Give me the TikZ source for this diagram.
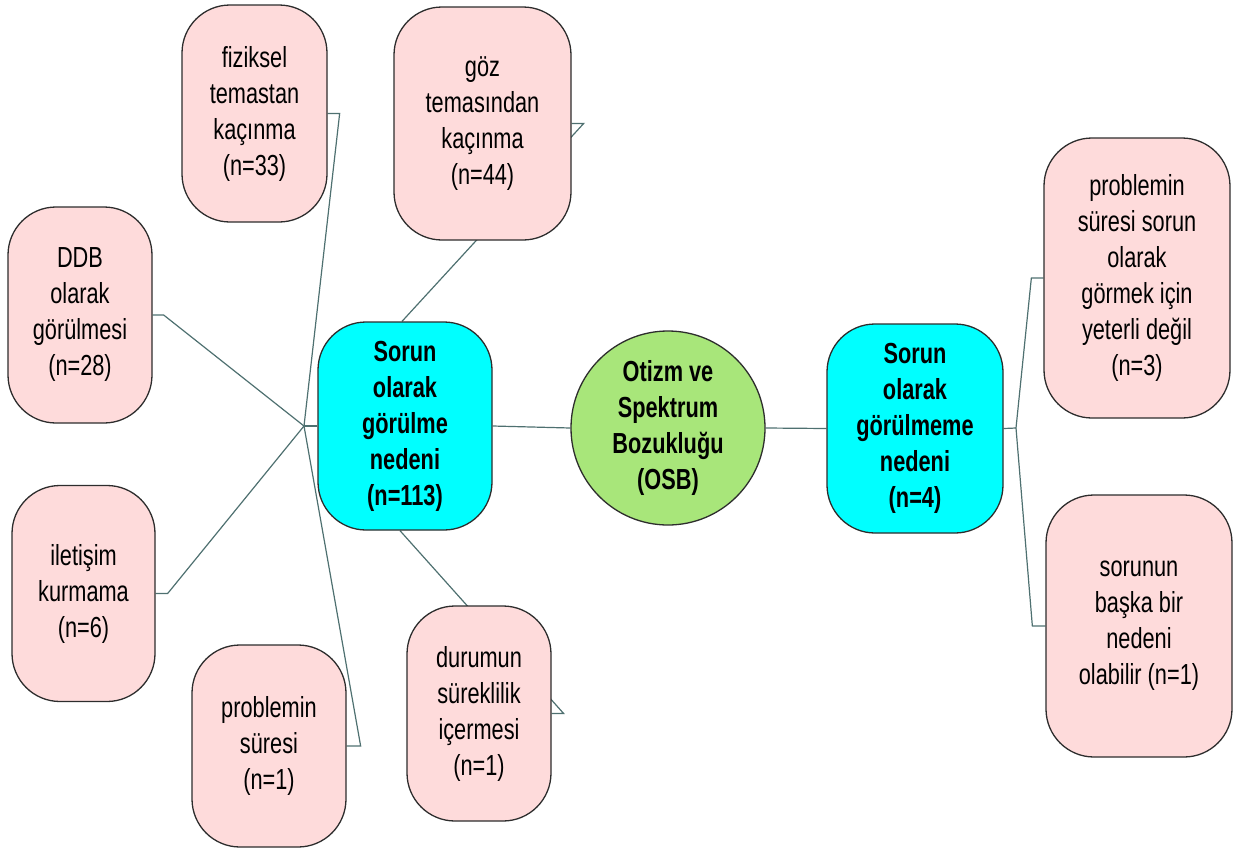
\documentclass[tikz,border=0pt]{standalone}
\usepackage{fontspec}
\setmainfont{Liberation Sans}[FakeStretch=0.75]
\usetikzlibrary{backgrounds,calc}
\definecolor{pinkfill}{RGB}{254,219,219}
\definecolor{cyanfill}{RGB}{0,255,255}
\definecolor{greenfill}{RGB}{168,230,122}
\definecolor{linkcol}{RGB}{78,112,112}
\definecolor{edgecol}{RGB}{45,45,45}
\tikzset{
  basebox/.style={draw=edgecol, line width=1.3pt, align=center, inner sep=0pt,
    font=\fontsize{29}{36}\selectfont},
  pinkbox/.style={basebox, rectangle, rounded corners=48pt, fill=pinkfill},
  cyanbox/.style={basebox, rectangle, rounded corners=48pt, fill=cyanfill,
    font=\fontsize{29}{36}\selectfont\bfseries},
  hubcircle/.style={basebox, circle, fill=greenfill, minimum size=194pt,
    font=\fontsize{29}{36}\selectfont\bfseries},
  link/.style={draw=linkcol, line width=1.2pt}
}
\begin{document}
\begin{tikzpicture}[x=1pt,y=-1pt]
\useasboundingbox (0,0) rectangle (1240,852);

% central topic
\node[hubcircle] (osb) at (668,428) {Otizm ve\\Spektrum\\Bozukluğu\\(OSB)};

% the two main branches
\node[cyanbox, minimum width=174pt, minimum height=208pt] (yes) at (405,426)
  {Sorun\\olarak\\görülme\\nedeni\\(n=113)};
\node[cyanbox, minimum width=176pt, minimum height=209pt] (no) at (915,428.5)
  {Sorun\\olarak\\görülmeme\\nedeni\\(n=4)};

% reasons on the left branch
\node[pinkbox, minimum width=145pt, minimum height=217pt] (fiz) at (254.5,113.5)
  {fiziksel\\temastan\\kaçınma\\(n=33)};
\node[pinkbox, minimum width=177pt, minimum height=233pt] (goz) at (482.5,123.5)
  {göz\\temasından\\kaçınma\\(n=44)};
\node[pinkbox, minimum width=144pt, minimum height=216pt] (ddb) at (80,315)
  {DDB\\olarak\\görülmesi\\(n=28)};
\node[pinkbox, minimum width=143pt, minimum height=216pt] (ilet) at (83.5,593.5)
  {iletişim\\kurmama\\(n=6)};
\node[pinkbox, minimum width=154pt, minimum height=202pt] (prob) at (269,746)
  {problemin\\süresi\\(n=1)};
\node[pinkbox, minimum width=144pt, minimum height=215pt] (dur) at (479,713.5)
  {durumun\\süreklilik\\içermesi\\(n=1)};

% reasons on the right branch
\node[pinkbox, minimum width=186pt, minimum height=280pt] (rt) at (1137,278)
  {problemin\\süresi sorun\\olarak\\görmek için\\yeterli değil\\(n=3)};
\node[pinkbox, minimum width=186pt, minimum height=262pt] (rb) at (1139,626)
  {sorunun\\başka bir\\nedeni\\olabilir (n=1)};

% junction points of the fans
\coordinate (hubL) at (304,426);
\coordinate (hubR) at (1016,428);

\begin{pgfonlayer}{background}
  \draw[link] (yes.east) -- (osb.west);
  \draw[link] (osb.east) -- (no.west);

  \draw[link] (yes.west) -- (hubL);
  \draw[link] (hubL) -- ($(ddb.east)+(11,0)$) -- (ddb.east);
  \draw[link] (hubL) -- ($(ilet.east)+(12,0)$) -- (ilet.east);
  \draw[link] (hubL) -- ($(fiz.east)+(12,0)$) -- (fiz.east);
  \draw[link] (hubL) -- ($(prob.east)+(14,0)$) -- (prob.east);
  \draw[link] ($(yes.north)+(-3,0)$) -- ($(goz.east)+(12,0)$) -- (goz.east);
  \draw[link] ($(yes.south)+(-5,0)$) -- ($(dur.east)+(12,0)$) -- (dur.east);

  \draw[link] (no.east) -- (hubR);
  \draw[link] (hubR) -- ($(rt.west)+(-12,0)$) -- (rt.west);
  \draw[link] (hubR) -- ($(rb.west)+(-13,0)$) -- (rb.west);
\end{pgfonlayer}
\end{tikzpicture}
\end{document}
